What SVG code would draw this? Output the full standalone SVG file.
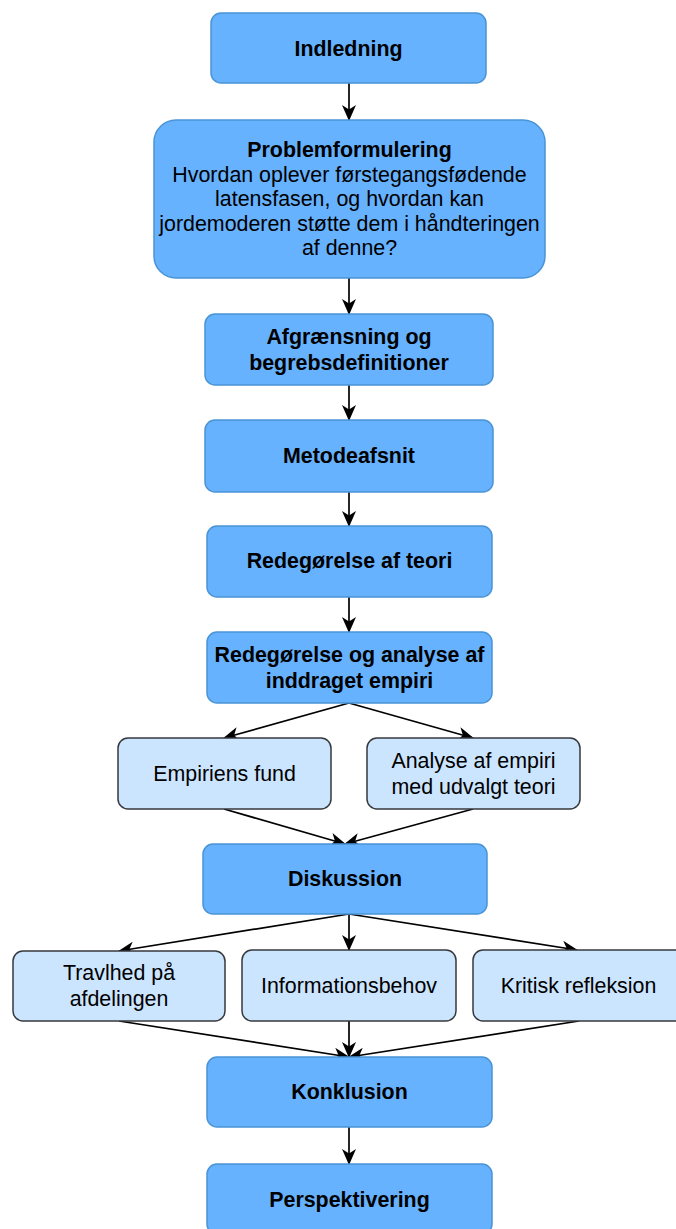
<svg xmlns="http://www.w3.org/2000/svg" width="676" height="1229" viewBox="0 0 676 1229">
<style>
.main{fill:#66b2ff;stroke:#4a94d6;stroke-width:1.5}
.sub{fill:#cce5ff;stroke:#36393d;stroke-width:1.5}
text{font-family:"Liberation Sans",Arial,sans-serif;font-size:21.4px;fill:#000;text-anchor:middle}
.b{font-weight:bold}
.c{fill:none;stroke:#000;stroke-width:1.7;marker-end:url(#ah)}
</style>
<defs>
<marker id="ah" markerUnits="userSpaceOnUse" markerWidth="16" markerHeight="14" viewBox="0 0 16 14" refX="15" refY="7" orient="auto">
<path d="M0,0 L16,7 L0,14 L4.5,7 Z" fill="#000"/>
</marker>
</defs>
<rect width="676" height="1229" fill="#fff"/>
<g id="connectors">
<line class="c" x1="349" y1="83" x2="349" y2="120"/>
<line class="c" x1="349" y1="278" x2="349" y2="314"/>
<line class="c" x1="349" y1="385" x2="349" y2="420"/>
<line class="c" x1="349" y1="492" x2="349" y2="526"/>
<line class="c" x1="349" y1="597" x2="349" y2="632"/>
<line class="c" x1="349" y1="703" x2="224" y2="738"/>
<line class="c" x1="349" y1="703" x2="473" y2="738"/>
<line class="c" x1="224" y1="809" x2="345" y2="844"/>
<line class="c" x1="473" y1="809" x2="345" y2="844"/>
<line class="c" x1="349" y1="914" x2="119" y2="951"/>
<line class="c" x1="349" y1="914" x2="349" y2="950"/>
<line class="c" x1="349" y1="914" x2="577" y2="950"/>
<line class="c" x1="119" y1="1021" x2="349" y2="1057"/>
<line class="c" x1="349" y1="1021" x2="349" y2="1057"/>
<line class="c" x1="579" y1="1021" x2="349" y2="1057"/>
<line class="c" x1="349" y1="1127" x2="349" y2="1164"/>
</g>
<g id="n-indledning"><rect class="main" x="211" y="13" width="275" height="70" rx="10"/><text class="b" x="348.5" y="56">Indledning</text></g>
<g id="n-problem"><rect class="main" x="154" y="120" width="391" height="158" rx="22"/>
<text class="b" x="349.5" y="157">Problemformulering</text>
<text x="349.5" y="182">Hvordan oplever førstegangsfødende</text>
<text x="349.5" y="206">latensfasen, og hvordan kan</text>
<text x="349.5" y="231">jordemoderen støtte dem i håndteringen</text>
<text x="349.5" y="255">af denne?</text></g>
<g id="n-afgraensning"><rect class="main" x="205" y="314" width="288" height="71" rx="10"/><text class="b" x="349" y="344">Afgrænsning og</text><text class="b" x="349" y="370">begrebsdefinitioner</text></g>
<g id="n-metode"><rect class="main" x="205" y="420" width="288" height="72" rx="10"/><text class="b" x="349" y="463">Metodeafsnit</text></g>
<g id="n-teori"><rect class="main" x="207" y="526" width="285" height="71" rx="10"/><text class="b" x="349.5" y="568">Redegørelse af teori</text></g>
<g id="n-empiri"><rect class="main" x="207" y="632" width="285" height="71" rx="10"/><text class="b" x="349.5" y="662">Redegørelse og analyse af</text><text class="b" x="349.5" y="688">inddraget empiri</text></g>
<g id="n-fund"><rect class="sub" x="118" y="738" width="213" height="71" rx="10"/><text x="224.5" y="781">Empiriens fund</text></g>
<g id="n-analyse"><rect class="sub" x="367" y="738" width="213" height="71" rx="10"/><text x="473.5" y="768">Analyse af empiri</text><text x="473.5" y="794">med udvalgt teori</text></g>
<g id="n-diskussion"><rect class="main" x="203" y="844" width="284" height="70" rx="10"/><text class="b" x="345" y="886">Diskussion</text></g>
<g id="n-travlhed"><rect class="sub" x="13" y="951" width="212" height="70" rx="10"/><text x="119" y="980">Travlhed på</text><text x="119" y="1006">afdelingen</text></g>
<g id="n-info"><rect class="sub" x="242" y="950" width="214" height="71" rx="10"/><text x="349" y="993">Informationsbehov</text></g>
<g id="n-kritisk"><rect class="sub" x="473" y="950" width="214" height="71" rx="10"/><text x="578.5" y="993">Kritisk refleksion</text></g>
<g id="n-konklusion"><rect class="main" x="207" y="1057" width="285" height="70" rx="10"/><text class="b" x="349.5" y="1099">Konklusion</text></g>
<g id="n-perspektivering"><rect class="main" x="207" y="1164" width="285" height="70" rx="10"/><text class="b" x="349.5" y="1207">Perspektivering</text></g>
</svg>
